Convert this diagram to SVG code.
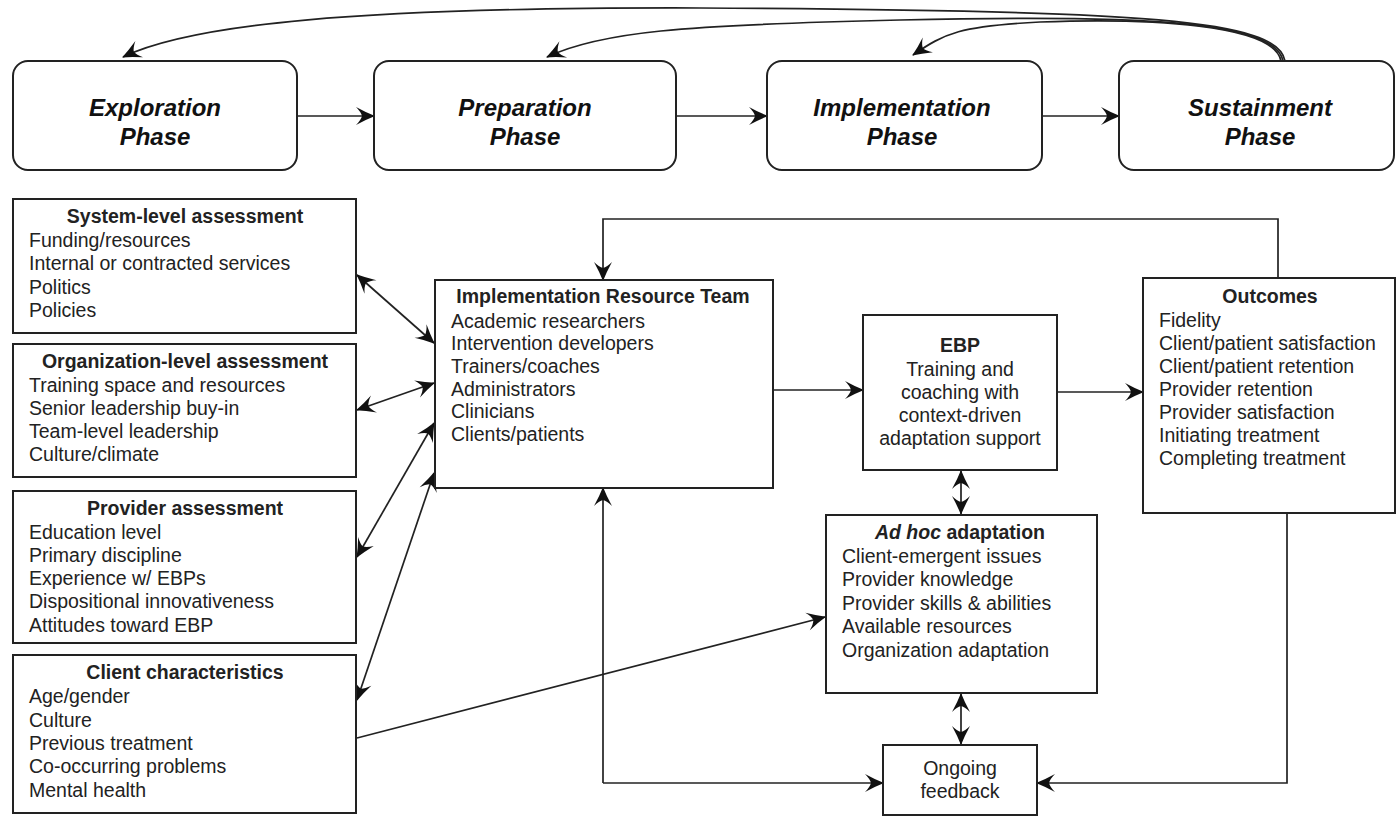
<svg xmlns="http://www.w3.org/2000/svg" width="1396" height="826" viewBox="0 0 1396 826">
<defs>
<style>
.box{fill:#fff;stroke:#222;stroke-width:2}
.ph{fill:#fff;stroke:#222;stroke-width:2}
.pt{font-family:"Liberation Sans",Arial,sans-serif;font-size:24px;font-weight:bold;font-style:italic;fill:#111;text-anchor:middle}
.t{font-family:"Liberation Sans",Arial,sans-serif;font-size:19.5px;fill:#222}
.tb{font-family:"Liberation Sans",Arial,sans-serif;font-size:19.5px;font-weight:bold;fill:#222;text-anchor:middle}
.c{text-anchor:middle}
.ln{fill:none;stroke:#222;stroke-width:1.7}
.a{marker-end:url(#ah)}
.aa{marker-end:url(#ah);marker-start:url(#ah)}
</style>
<marker id="ah" markerUnits="userSpaceOnUse" markerWidth="20" markerHeight="18" viewBox="-19 -9 20 18" refX="0" refY="0" orient="auto-start-reverse" overflow="visible">
<path d="M1,0 Q-8,-3.5 -18,-9 Q-13,-4 -12,0 Q-13,4 -18,9 Q-8,3.5 1,0 Z" fill="#111"/>
</marker>
</defs>
<rect width="1396" height="826" fill="#fff"/>

<g id="connectors">
<path class="ln a" d="M1285,61 C1278,20 1150,10 700,8 C350,7 190,25 123,57"/>
<path class="ln a" d="M1283,61 C1276,22 1150,14 900,20 C680,25 600,32 547,57"/>
<path class="ln a" d="M1281,61 C1274,24 1150,18 1040,22 C960,26 945,33 913,55"/>
<path class="ln a" d="M297,116 L374,116"/>
<path class="ln a" d="M676,116 L767,116"/>
<path class="ln a" d="M1042,116 L1119,116"/>
<path class="ln aa" d="M357,275 L434,343"/>
<path class="ln aa" d="M357,410 L434,383"/>
<path class="ln aa" d="M357,557 L434,423"/>
<path class="ln aa" d="M357,700 L434,473"/>
<path class="ln a" d="M357,738 L825,617"/>
<path class="ln a" d="M1278,278 L1278,219 L603,219 L603,280"/>
<path class="ln a" d="M773,390 L863,390"/>
<path class="ln a" d="M1057,392 L1143,392"/>
<path class="ln aa" d="M961,471 L961,514"/>
<path class="ln aa" d="M961,694 L961,744"/>
<path class="ln a" d="M1287,513 L1287,783 L1037,783"/>
<path class="ln a" d="M603,783 L603,488"/>
<path class="ln a" d="M603,783 L883,783"/>
</g>

<g id="exploration">
<rect class="ph" x="13" y="61" width="284" height="109" rx="15"/>
<text class="pt" x="155" y="116">Exploration</text>
<text class="pt" x="155" y="145">Phase</text>
</g>
<g id="preparation">
<rect class="ph" x="374" y="61" width="302" height="109" rx="15"/>
<text class="pt" x="525" y="116">Preparation</text>
<text class="pt" x="525" y="145">Phase</text>
</g>
<g id="implementation">
<rect class="ph" x="767" y="61" width="275" height="109" rx="15"/>
<text class="pt" x="902" y="116">Implementation</text>
<text class="pt" x="902" y="145">Phase</text>
</g>
<g id="sustainment">
<rect class="ph" x="1119" y="61" width="275" height="109" rx="15"/>
<text class="pt" x="1260" y="116">Sustainment</text>
<text class="pt" x="1260" y="145">Phase</text>
</g>

<g id="system">
<rect class="box" x="13" y="199" width="343" height="134"/>
<text class="tb" x="185" y="223">System-level assessment</text>
<text class="t" x="29" y="247">Funding/resources</text>
<text class="t" x="29" y="270">Internal or contracted services</text>
<text class="t" x="29" y="294">Politics</text>
<text class="t" x="29" y="317">Policies</text>
</g>
<g id="organization">
<rect class="box" x="13" y="344" width="343" height="133"/>
<text class="tb" x="185" y="368">Organization-level assessment</text>
<text class="t" x="29" y="392">Training space and resources</text>
<text class="t" x="29" y="415">Senior leadership buy-in</text>
<text class="t" x="29" y="438">Team-level leadership</text>
<text class="t" x="29" y="461">Culture/climate</text>
</g>
<g id="provider">
<rect class="box" x="13" y="491" width="343" height="152"/>
<text class="tb" x="185" y="515">Provider assessment</text>
<text class="t" x="29" y="539">Education level</text>
<text class="t" x="29" y="562">Primary discipline</text>
<text class="t" x="29" y="585">Experience w/ EBPs</text>
<text class="t" x="29" y="608">Dispositional innovativeness</text>
<text class="t" x="29" y="632">Attitudes toward EBP</text>
</g>
<g id="client">
<rect class="box" x="13" y="655" width="343" height="158"/>
<text class="tb" x="185" y="679">Client characteristics</text>
<text class="t" x="29" y="703">Age/gender</text>
<text class="t" x="29" y="727">Culture</text>
<text class="t" x="29" y="750">Previous treatment</text>
<text class="t" x="29" y="773">Co-occurring problems</text>
<text class="t" x="29" y="797">Mental health</text>
</g>
<g id="irt">
<rect class="box" x="435" y="280" width="338" height="208"/>
<text class="tb" x="603" y="303">Implementation Resource Team</text>
<text class="t" x="451" y="328">Academic researchers</text>
<text class="t" x="451" y="350">Intervention developers</text>
<text class="t" x="451" y="373">Trainers/coaches</text>
<text class="t" x="451" y="396">Administrators</text>
<text class="t" x="451" y="418">Clinicians</text>
<text class="t" x="451" y="441">Clients/patients</text>
</g>
<g id="ebp">
<rect class="box" x="863" y="315" width="194" height="155"/>
<text class="tb" x="960" y="352">EBP</text>
<text class="t c" x="960" y="376">Training and</text>
<text class="t c" x="960" y="399">coaching with</text>
<text class="t c" x="960" y="422">context-driven</text>
<text class="t c" x="960" y="445">adaptation support</text>
</g>
<g id="outcomes">
<rect class="box" x="1143" y="278" width="252" height="235"/>
<text class="tb" x="1270" y="303">Outcomes</text>
<text class="t" x="1159" y="327">Fidelity</text>
<text class="t" x="1159" y="350">Client/patient satisfaction</text>
<text class="t" x="1159" y="373">Client/patient retention</text>
<text class="t" x="1159" y="396">Provider retention</text>
<text class="t" x="1159" y="419">Provider satisfaction</text>
<text class="t" x="1159" y="442">Initiating treatment</text>
<text class="t" x="1159" y="465">Completing treatment</text>
</g>
<g id="adhoc">
<rect class="box" x="826" y="515" width="271" height="178"/>
<text class="tb" x="960" y="539"><tspan font-style="italic">Ad hoc</tspan> adaptation</text>
<text class="t" x="842" y="563">Client-emergent issues</text>
<text class="t" x="842" y="586">Provider knowledge</text>
<text class="t" x="842" y="610">Provider skills &amp; abilities</text>
<text class="t" x="842" y="633">Available resources</text>
<text class="t" x="842" y="657">Organization adaptation</text>
</g>
<g id="feedback">
<rect class="box" x="883" y="745" width="154" height="70"/>
<text class="t c" x="960" y="775">Ongoing</text>
<text class="t c" x="960" y="798">feedback</text>
</g>
</svg>
